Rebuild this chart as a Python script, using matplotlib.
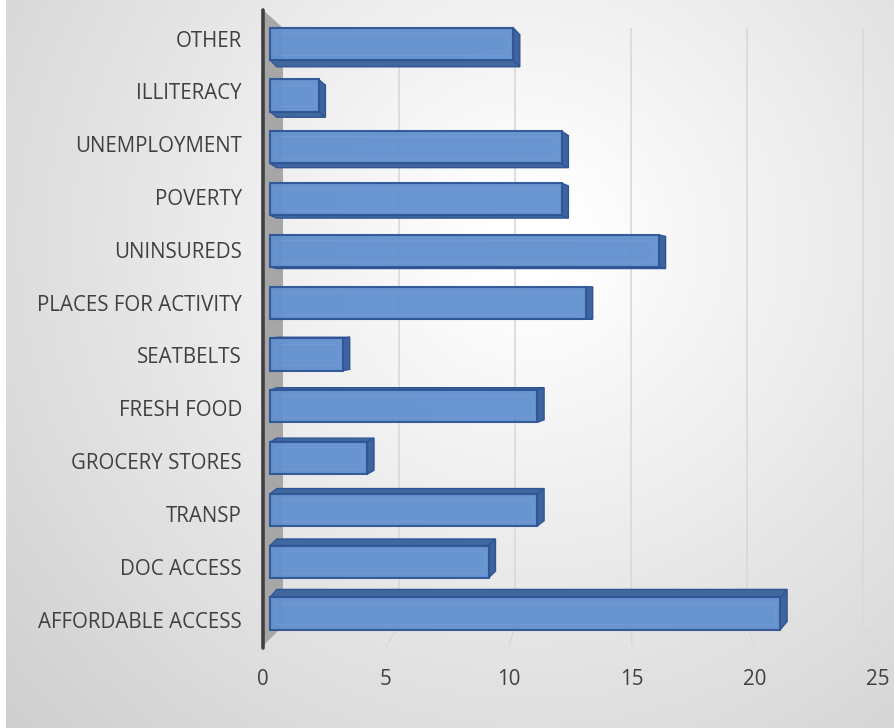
import matplotlib
matplotlib.use("Agg")
import matplotlib.pyplot as plt
from matplotlib.patches import Polygon, Rectangle
import numpy as np

# data (bottom to top, as drawn)
categories = ["AFFORDABLE ACCESS", "DOC ACCESS", "TRANSP", "GROCERY STORES",
              "FRESH FOOD", "SEATBELTS", "PLACES FOR ACTIVITY", "UNINSUREDS",
              "POVERTY", "UNEMPLOYMENT", "ILLITERACY", "OTHER"]
values = [21, 9, 11, 4, 11, 3, 13, 16, 12, 12, 2, 10]
x_ticks = [0, 5, 10, 15, 20, 25]

plt.rcParams["font.family"] = ["Open Sans", "DejaVu Sans"]

W, H = 895, 728
fig = plt.figure(figsize=(W / 100, H / 100), dpi=100)

# radial grey background like the excel chart area
bg = fig.add_axes([0, 0, 1, 1], zorder=0)
yy, xx = np.mgrid[0:H, 0:W]
r = np.hypot(xx - 530, yy - 240)
shade = np.clip(258 - 0.072 * r, 0, 255) / 255
rgb = np.dstack([shade] * 3)
rgb[:, :6] = 1.0
bg.imshow(rgb, extent=(0, W, H, 0), aspect="auto", interpolation="bilinear")
bg.set_xlim(0, W)
bg.set_ylim(H, 0)
bg.axis("off")

ax = fig.add_axes([0.2881, 0.1071, 0.7059, 0.886], zorder=1)
ax.patch.set_alpha(0)
ax.set_xlim(-0.5, 25.5)
ax.set_ylim(-0.705, 11.747)
for s in ax.spines.values():
    s.set_visible(False)


# fake perspective: back wall vs front edge of the floor
def back_x(v):
    return 0.535 + 0.955 * v


def front_x(v):
    return -0.288 + 1.012 * v


top_back, top_front = 11.303, 11.653
floor_back, floor_front = -0.241, -0.627

# gridlines on the back wall, bending onto the floor
for t in x_ticks[1:]:
    ax.plot([back_x(t), back_x(t), front_x(t)], [top_back, floor_back, floor_front],
            color="#d9d9d9", lw=1.2, zorder=2, solid_capstyle="butt")

# side wall
ax.add_patch(Polygon([(front_x(0), floor_front), (front_x(0), top_front),
                      (back_x(0), top_back), (back_x(0), floor_back)],
                     closed=True, fc="#a6a6a6", ec="none", zorder=2))
ax.plot([front_x(0)] * 2, [floor_front - 0.03, top_front], color="#404040",
        lw=2.6, zorder=3, solid_capstyle="round")

# bars with a bit of depth
bar_h = 0.62
dx = 0.28
for i, v in enumerate(values):
    y0, y1 = i - bar_h / 2, i + bar_h / 2
    dy = 0.155 - 0.0264 * i
    ye = y1 if dy > 0 else y0
    ax.add_patch(Polygon([(0, ye), (v, ye), (v + dx, ye + dy), (dx, ye + dy)],
                         closed=True, fc="#41679f", ec="#2f5597", lw=1, zorder=4))
    ax.add_patch(Polygon([(v, y0), (v, y1), (v + dx, y1 + dy), (v + dx, y0 + dy)],
                         closed=True, fc="#3d649c", ec="#2f5597", lw=1, zorder=4))

ax.barh(range(len(values)), values, height=bar_h, left=0, color="#6190cf",
        edgecolor="#2f5597", linewidth=1.5, alpha=0.95, zorder=5)
for i, v in enumerate(values):
    ax.add_patch(Rectangle((0.2, i - bar_h / 2 + 0.1), max(v - 0.4, 0.05), bar_h - 0.2,
                           fc="none", ec="#7ea6dd", lw=0.7, alpha=0.35, zorder=6))

# category labels sit on the front plane, so they spread a touch wider than the bars
label_pos = [i * 1.0196 - 0.116 for i in range(len(categories))]
ax.set_yticks(label_pos)
ax.set_yticklabels(categories)
ax.set_xticks([front_x(t) for t in x_ticks])
ax.set_xticklabels([str(t) for t in x_ticks])
ax.tick_params(axis="y", length=0, pad=11.4, labelsize=14.8, labelcolor="#404040")
ax.tick_params(axis="x", length=0, pad=13.5, labelsize=14.8, labelcolor="#404040")

fig.savefig("out.png", dpi=100)
